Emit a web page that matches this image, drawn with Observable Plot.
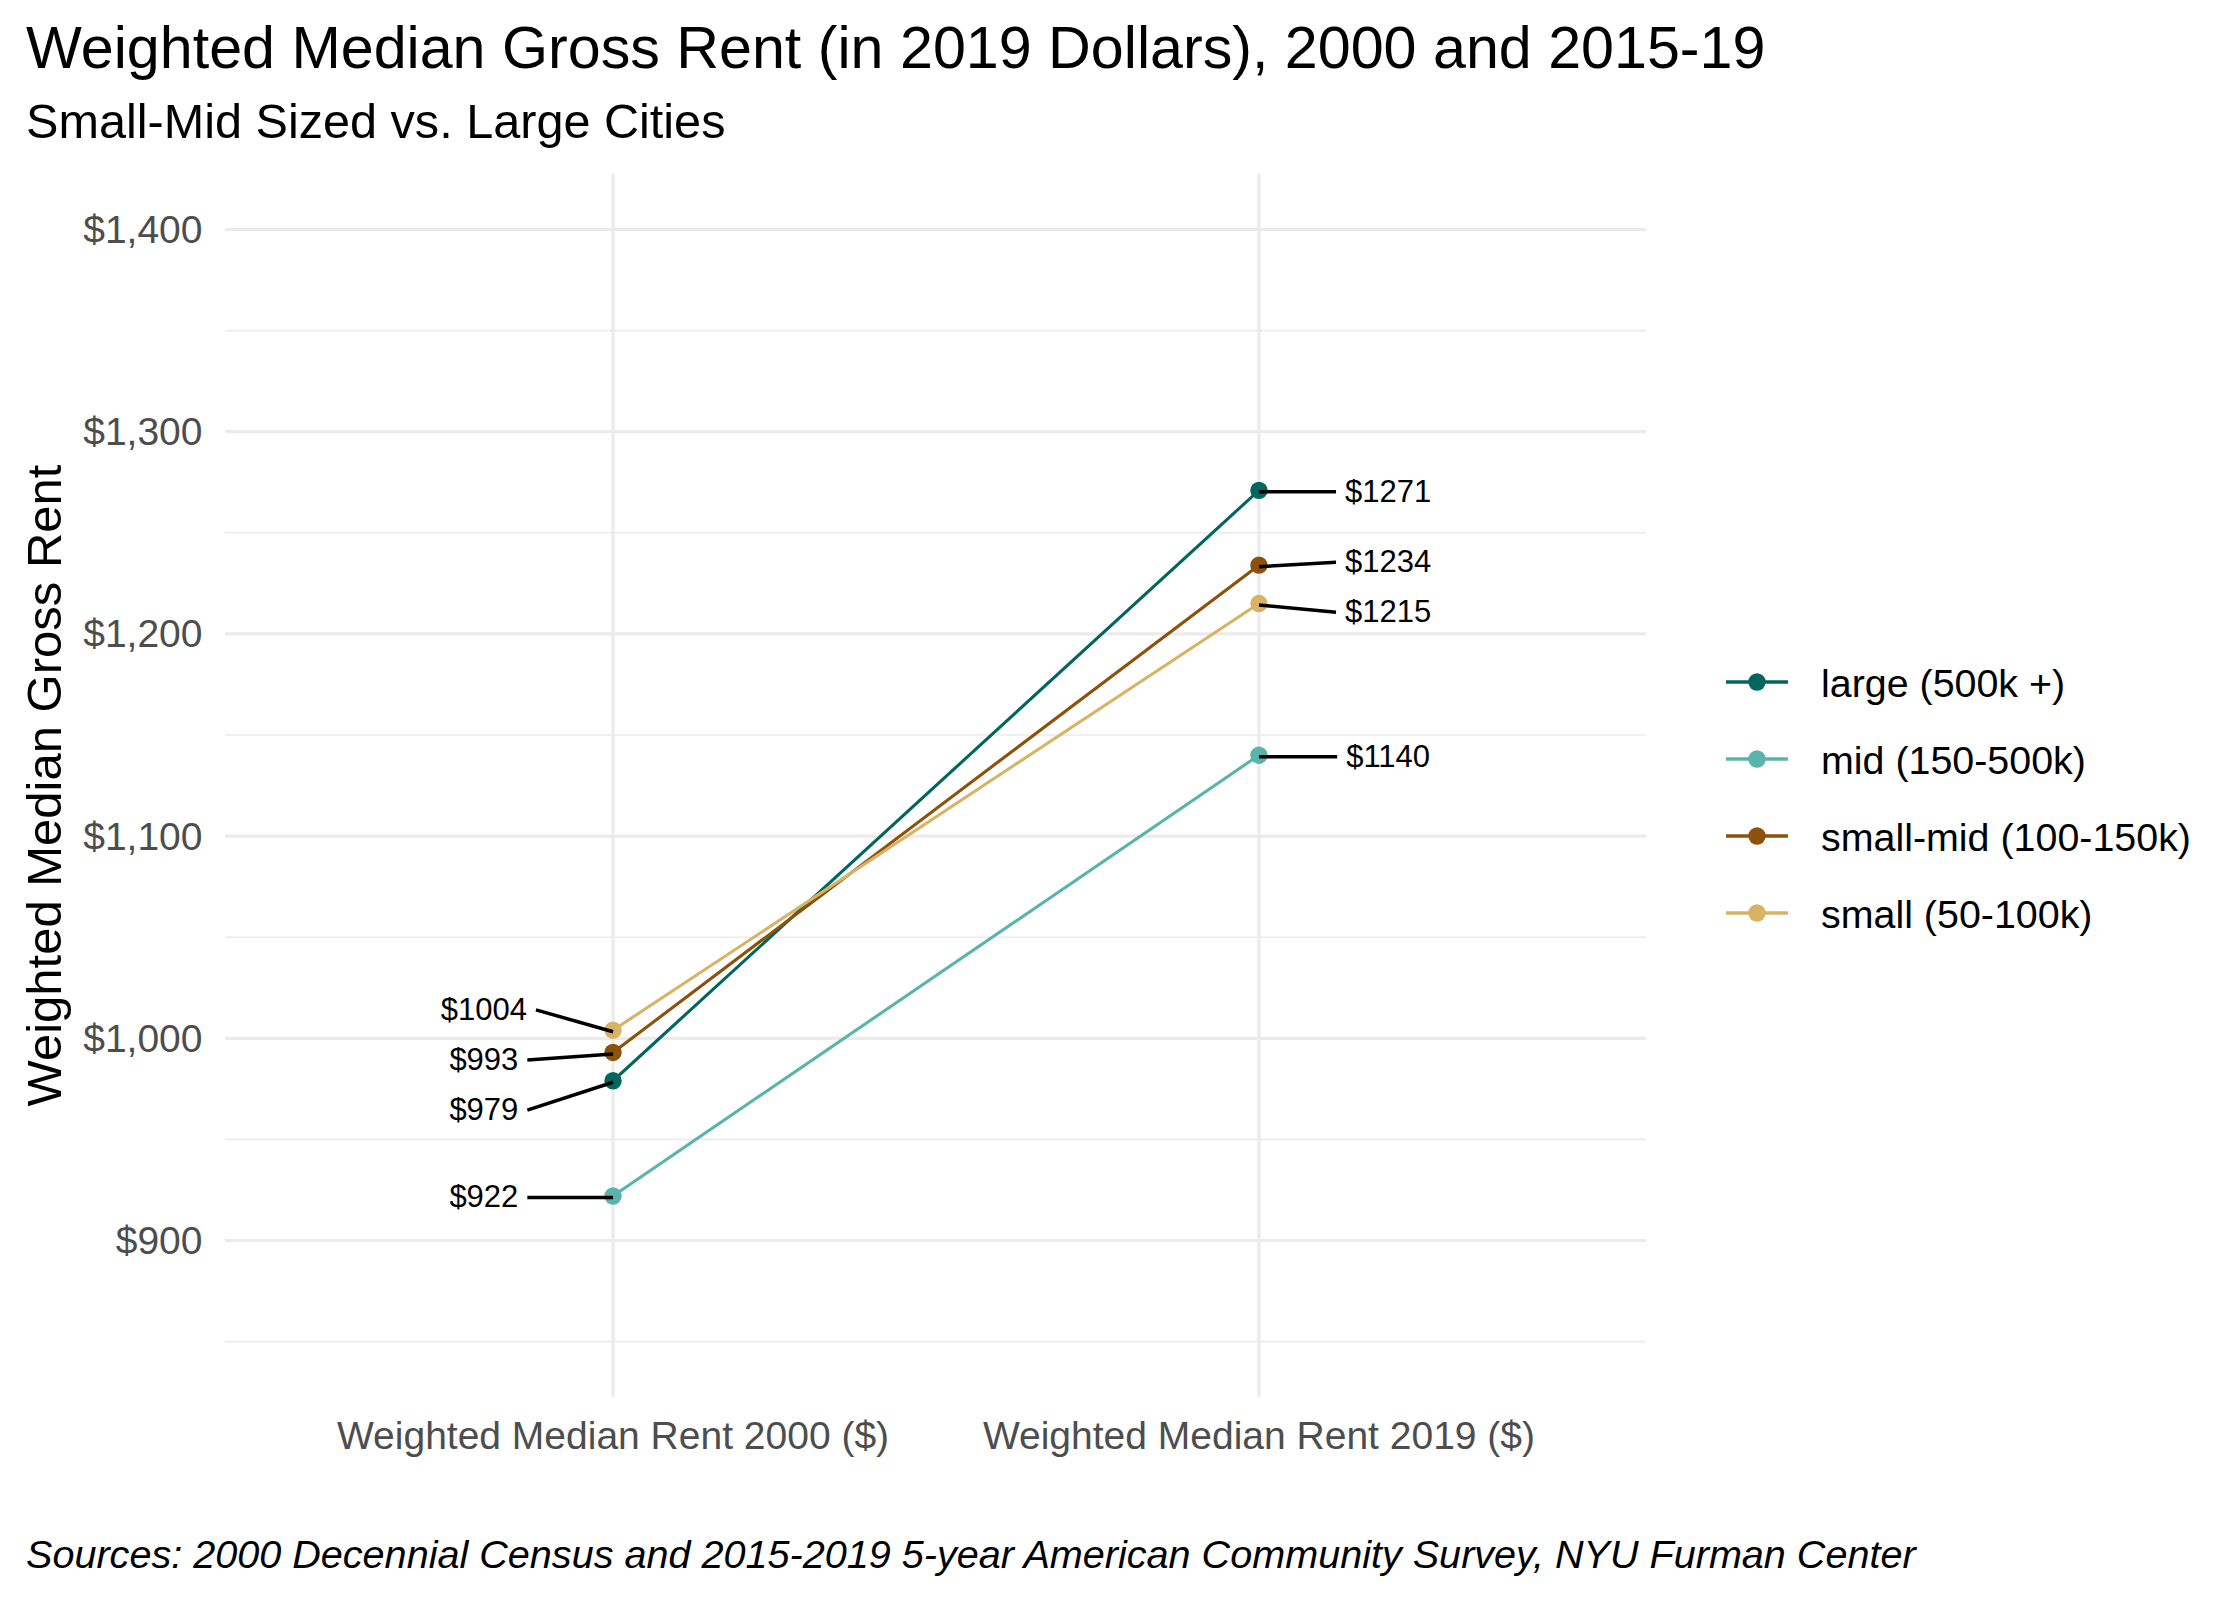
<!DOCTYPE html>
<html>
<head>
<meta charset="utf-8">
<script src="https://cdn.jsdelivr.net/npm/d3@7"></script>
<script src="https://cdn.jsdelivr.net/npm/@observablehq/plot@0.6"></script>
<style>
  html, body { margin: 0; padding: 0; background: #ffffff; }
  #wrap { position: relative; width: 2240px; height: 1600px; background: #ffffff; font-family: "Liberation Sans", Arial, sans-serif; overflow: hidden; }
  .txt { position: absolute; white-space: nowrap; line-height: 1; color: #000; }
  #chart { position: absolute; left: 0; top: 160px; }
</style>
</head>
<body>
<div id="wrap">
  <div class="txt" id="title" style="left:26px; top:18px; font-size:59.2px;">Weighted Median Gross Rent (in 2019 Dollars), 2000 and 2015-19</div>
  <div class="txt" id="subtitle" style="left:26px; top:96.8px; font-size:48.6px;">Small-Mid Sized vs. Large Cities</div>
  <div id="chart"></div>
  <div id="legend"></div>
  <div class="txt" id="caption" style="left:26px; top:1534.5px; font-size:39.6px; font-style:italic;">Sources: 2000 Decennial Census and 2015-2019 5-year American Community Survey, NYU Furman Center</div>
</div>
<script>
// ---- data ----
const groups = ["large (500k +)", "mid (150-500k)", "small-mid (100-150k)", "small (50-100k)"];
const rent2000 = [979, 922, 993, 1004];
const rent2019 = [1271, 1140, 1234, 1215];
const periods = ["Weighted Median Rent 2000 ($)", "Weighted Median Rent 2019 ($)"];
const colors = ["#01665E", "#5AB4AC", "#8C510A", "#D8B365"];
const yTicks = [900, 1000, 1100, 1200, 1300, 1400];
const yMinor = [850, 950, 1050, 1150, 1250, 1350];
const yLimits = [850, 1400];

// ---- layout ----
const W = 2240, H = 1320;
const mL = 225, mR = W - 1646, mT = 13.4, mB = 83.3;
const span = yLimits[1] - yLimits[0];
const yDomain = [yLimits[0] - 0.05 * span, yLimits[1] + 0.05 * span];
const xDomain = [0.4, 2.6];
const pxPerX = (W - mL - mR) / (xDomain[1] - xDomain[0]);
const labelFont = 31;

const rows = [];
groups.forEach((g, i) => {
  rows.push({group: g, period: 1, value: rent2000[i]});
  rows.push({group: g, period: 2, value: rent2019[i]});
});

// simple 1-D repel of labels (in data units)
function repel(vals, gap) {
  const order = vals.map((v, i) => i).sort((a, b) => vals[a] - vals[b]);
  let clusters = order.map(i => ({members: [i], center: vals[i]}));
  let changed = true;
  while (changed) {
    changed = false;
    for (let k = 0; k < clusters.length - 1; k++) {
      const a = clusters[k], b = clusters[k + 1];
      const aTop = a.center + (a.members.length - 1) * gap / 2;
      const bBot = b.center - (b.members.length - 1) * gap / 2;
      if (bBot - aTop < gap) {
        const m = a.members.concat(b.members);
        clusters.splice(k, 2, {members: m, center: d3.mean(m, j => vals[j])});
        changed = true;
        break;
      }
    }
  }
  const pos = new Array(vals.length);
  clusters.forEach(c => {
    const n = c.members.length;
    // slight downward bias of crowded clusters, as ggrepel settles them
    const bias = n > 2 ? -2 : (n > 1 ? -0.7 : 0);
    c.members.forEach((j, t) => { pos[j] = c.center + bias + (t - (n - 1) / 2) * gap; });
  });
  return pos;
}

const ctx = document.createElement("canvas").getContext("2d");
ctx.font = `${labelFont}px "Liberation Sans", Arial, sans-serif`;

const labels = [];
[[rent2000, 1, -1], [rent2019, 2, 1]].forEach(([vals, period, side]) => {
  const ys = repel(vals, 24.8);
  vals.forEach((v, i) => {
    const text = "$" + v;
    const lx = period + side * 0.2;
    const w = ctx.measureText(text).width;
    const edge = lx - side * (w / 2 + 9) / pxPerX;
    labels.push({period, value: v, text, lx, ly: ys[i], edge});
  });
});

const fmt = d3.format(",");
const plot = Plot.plot({
  width: W, height: H,
  marginLeft: mL, marginRight: mR, marginTop: mT, marginBottom: mB,
  style: {fontFamily: '"Liberation Sans", Arial, sans-serif', background: "transparent", overflow: "visible"},
  x: {type: "linear", domain: xDomain},
  y: {domain: yDomain},
  marks: [
    Plot.gridY(yMinor, {stroke: "#EBEBEB", strokeOpacity: 1, strokeWidth: 1.6}),
    Plot.gridY(yTicks, {stroke: "#EBEBEB", strokeOpacity: 1, strokeWidth: 3.2}),
    Plot.gridX([1, 2], {stroke: "#EBEBEB", strokeOpacity: 1, strokeWidth: 3.2}),
    Plot.axisY(yTicks, {tickSize: 0, tickPadding: 23, tickFormat: d => "$" + fmt(d), fontSize: 39, color: "#4D4D4D", label: null, dy: 1}),
    Plot.axisX([1, 2], {tickSize: 0, tickPadding: 23.6, tickFormat: d => periods[d - 1], fontSize: 39, color: "#4D4D4D", label: null}),
    Plot.text(["Weighted Median Gross Rent"], {frameAnchor: "left", rotate: -90, dx: -180, fontSize: 49, fill: "#000", textAnchor: "middle", lineAnchor: "middle"}),
    Plot.line(rows, {x: "period", y: "value", z: "group", stroke: "group", strokeWidth: 3.1}),
    Plot.dot(rows, {x: "period", y: "value", fill: "group", r: 8.7, stroke: null}),
    Plot.link(labels, {x1: "edge", y1: "ly", x2: "period", y2: "value", stroke: "#000", strokeWidth: 3.5, dy: 1.5}),
    Plot.text(labels, {x: "lx", y: "ly", text: "text", fontSize: labelFont, fill: "#000", textAnchor: "middle", dy: 1.5})
  ],
  color: {domain: groups, range: colors}
});
document.getElementById("chart").appendChild(plot);

// ---- legend ----
const legend = document.getElementById("legend");
const rowY = [682, 759, 836, 913];
groups.forEach((g, i) => {
  const y = rowY[i];
  const sv = document.createElementNS("http://www.w3.org/2000/svg", "svg");
  sv.setAttribute("width", 80); sv.setAttribute("height", 40);
  sv.style.position = "absolute"; sv.style.left = "1720px"; sv.style.top = (y - 20) + "px";
  sv.innerHTML = `<line x1="6" x2="68" y1="20" y2="20" stroke="${colors[i]}" stroke-width="3.5"/><circle cx="37" cy="20" r="8.7" fill="${colors[i]}"/>`;
  legend.appendChild(sv);
  const t = document.createElement("div");
  t.className = "txt";
  t.style.left = "1821px"; t.style.top = (y - 18.5) + "px"; t.style.fontSize = "39.4px";
  t.textContent = g;
  legend.appendChild(t);
});
</script>
</body>
</html>
